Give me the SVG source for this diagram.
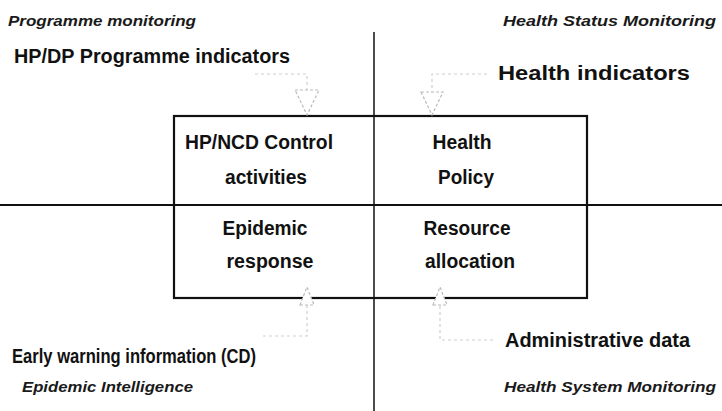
<svg xmlns="http://www.w3.org/2000/svg" width="722" height="411" viewBox="0 0 722 411">
<style>
.bg{fill:#fff}
.ax{stroke:#111;stroke-width:1.5;fill:none}
.box{stroke:#111;stroke-width:2.2;fill:none}
.hl{stroke:#111;stroke-width:2;fill:none}
.cn{stroke:#cfcfcf;stroke-width:1.2;stroke-dasharray:3 3;fill:none}
.ah{stroke:#bbb;stroke-width:1.2;stroke-dasharray:3 2;fill:#fff}
.it{font-family:"Liberation Sans",Arial,sans-serif;font-style:italic;font-weight:bold;font-size:15px;fill:#1a1a1a}
.lb{font-family:"Liberation Sans",Arial,sans-serif;font-weight:bold;font-size:20px;fill:#111}
.nd{font-family:"Liberation Sans",Arial,sans-serif;font-weight:bold;font-size:20px;fill:#111;text-anchor:middle}
</style>
<rect class="bg" x="0" y="0" width="722" height="411"/>
<g id="axes">
<line class="ax" x1="374" y1="32" x2="374" y2="411"/>
<line class="hl" x1="0" y1="205" x2="722" y2="205"/>
</g>
<g id="box">
<rect class="box" x="174" y="116" width="413" height="182"/>
</g>
<g id="connectors">
<path class="cn" d="M255,74 H307 V90"/>
<polygon class="ah" points="295,90 319,90 307,115"/>
<path class="cn" d="M487,74 H432 V92"/>
<polygon class="ah" points="421,92 443,92 432,115"/>
<path class="cn" d="M263,336 H307 V305"/>
<polygon class="ah" points="300,305 314,305 307,287"/>
<path class="cn" d="M493,340 H440 V305"/>
<polygon class="ah" points="433,305 447,305 440,287"/>
</g>
<g id="quadrant-labels">
<text class="it" x="8" y="26" textLength="188" lengthAdjust="spacingAndGlyphs">Programme monitoring</text>
<text class="it" x="503" y="26" textLength="213" lengthAdjust="spacingAndGlyphs">Health Status Monitoring</text>
<text class="it" x="22" y="392" textLength="171" lengthAdjust="spacingAndGlyphs">Epidemic Intelligence</text>
<text class="it" x="504" y="392" textLength="212" lengthAdjust="spacingAndGlyphs">Health System Monitoring</text>
</g>
<g id="input-hpdp">
<text class="lb" x="14" y="63" textLength="276" lengthAdjust="spacingAndGlyphs">HP/DP Programme indicators</text>
</g>
<g id="input-health">
<text class="lb" x="498" y="80" textLength="192" lengthAdjust="spacingAndGlyphs">Health indicators</text>
</g>
<g id="input-early">
<text class="lb" x="12" y="363" textLength="244" lengthAdjust="spacingAndGlyphs">Early warning information (CD)</text>
</g>
<g id="input-admin">
<text class="lb" x="505" y="347" textLength="185" lengthAdjust="spacingAndGlyphs">Administrative data</text>
</g>
<g id="node-hpncd">
<text class="nd" x="259" y="149" textLength="148" lengthAdjust="spacingAndGlyphs">HP/NCD Control</text>
<text class="nd" x="266" y="184" textLength="82" lengthAdjust="spacingAndGlyphs">activities</text>
</g>
<g id="node-policy">
<text class="nd" x="462" y="149" textLength="59" lengthAdjust="spacingAndGlyphs">Health</text>
<text class="nd" x="466" y="184" textLength="56" lengthAdjust="spacingAndGlyphs">Policy</text>
</g>
<g id="node-epidemic">
<text class="nd" x="265" y="235" textLength="85" lengthAdjust="spacingAndGlyphs">Epidemic</text>
<text class="nd" x="270" y="268" textLength="87" lengthAdjust="spacingAndGlyphs">response</text>
</g>
<g id="node-resource">
<text class="nd" x="467" y="235" textLength="87" lengthAdjust="spacingAndGlyphs">Resource</text>
<text class="nd" x="470" y="268" textLength="90" lengthAdjust="spacingAndGlyphs">allocation</text>
</g>
</svg>
